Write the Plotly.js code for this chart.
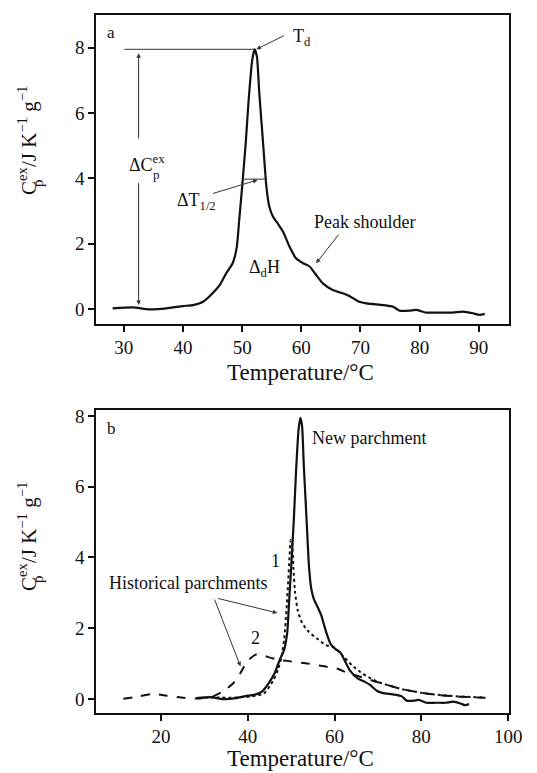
<!DOCTYPE html>
<html>
<head>
<meta charset="utf-8">
<script src="https://cdn.plot.ly/plotly-3.0.1.min.js"></script>
<style>
html,body{margin:0;padding:0;background:#fff;}
#chart{width:537px;height:773px;}
</style>
</head>
<body>
<div id="chart"></div>
<script>
// New parchment (solid) – used in both panels
const newT = [28.1,31.5,34.3,37.2,40,41.7,43.4,45,46.2,47.3,48.4,49.1,49.5,50,50.6,51.1,51.7,52.1,52.5,52.9,53.5,54.1,54.6,55.2,56,56.9,58,59.1,60.3,61.4,62.5,63.6,65.3,67,68.1,69.8,71,73.8,75.5,76.6,78.3,79.4,81.1,83.4,85.6,87.3,89,90.1,91];
const newC = [0.02,0.05,-0.01,0.02,0.09,0.12,0.22,0.48,0.73,1.09,1.4,1.9,2.72,3.74,5.07,6.4,7.62,7.95,7.72,6.6,5.17,3.74,3.13,2.83,2.62,2.37,1.91,1.55,1.40,1.30,1.04,0.79,0.58,0.48,0.40,0.22,0.17,0.12,0.07,-0.05,-0.05,-0.03,-0.11,-0.11,-0.11,-0.08,-0.13,-0.18,-0.15];

// Historical parchment 1 (dotted)
const hist1T = [30,33,36,39,41,43.7,45,46,47,47.8,48.4,48.9,49.3,49.6,49.9,50.2,50.5,50.9,51.5,52.5,54,56,58,60,62,64,66,68,70,73,76,80,85,90,94];
const hist1C = [0.03,0.04,0.03,0.05,0.07,0.15,0.35,0.55,0.85,1.2,1.7,2.5,3.3,4.0,4.5,4.4,3.7,3.0,2.5,2.15,1.9,1.7,1.52,1.45,1.2,0.95,0.75,0.6,0.48,0.36,0.26,0.17,0.1,0.06,0.04];

// Historical parchment 2 (dashed)
const hist2T = [11.3,15.1,18.2,21.3,25.2,29,32.1,34.4,36.7,38.3,39.8,41.8,42.9,44.5,46.8,49.9,53.7,57.6,60.7,63,66.1,69.1,72.2,75.3,79.2,83,86.9,90.7,95.4];
const hist2C = [0,0.075,0.14,0.09,0.03,0.01,0.075,0.22,0.45,0.73,1.06,1.25,1.25,1.19,1.11,1.06,1.0,0.92,0.85,0.73,0.62,0.5,0.39,0.28,0.19,0.12,0.075,0.05,0.03];

const ticksA = [30,40,50,60,70,80,90];
const ticksB = [20,40,60,80,100];
const ticksY = [0,2,4,6,8];

// derived peak / half-height positions
let pk = 0;
for (let i = 1; i < newC.length; i++) if (newC[i] > newC[pk]) pk = i;
const peakT = newT[pk], peakC = newC[pk], half = peakC / 2;
function cross(lo, hi, step) {
  for (let i = lo; i !== hi; i += step) {
    const j = i + step;
    if ((newC[i] - half) * (newC[j] - half) <= 0) {
      return newT[i] + (half - newC[i]) * (newT[j] - newT[i]) / (newC[j] - newC[i]);
    }
  }
  return newT[lo];
}
const leftHalf = cross(0, pk, 1), rightHalf = cross(newC.length - 1, pk, -1);

const FONT = 'Liberation Serif, Times New Roman, serif';
const black = '#111';

const traces = [
  {x: newT, y: newC, xaxis: 'x', yaxis: 'y', mode: 'lines', line: {color: black, width: 2.2, shape: 'spline', smoothing: 0.5}},
  {x: newT, y: newC, xaxis: 'x2', yaxis: 'y2', mode: 'lines', line: {color: black, width: 2.2, shape: 'spline', smoothing: 0.5}},
  {x: hist1T, y: hist1C, xaxis: 'x2', yaxis: 'y2', mode: 'lines', line: {color: black, width: 2, dash: 'dot', shape: 'spline', smoothing: 0.5}},
  {x: hist2T, y: hist2C, xaxis: 'x2', yaxis: 'y2', mode: 'lines', line: {color: black, width: 2, dash: 'dash', shape: 'spline', smoothing: 0.5}}
];

const axCommon = {
  showline: true, mirror: true, linecolor: black, linewidth: 1.6,
  ticks: 'outside', ticklen: 6, tickwidth: 2, tickcolor: black,
  showgrid: false, zeroline: false,
  tickfont: {family: FONT, size: 19, color: black}
};

function arrow(xr, yr, x, y, ax, ay, w) {
  return {xref: xr, yref: yr, axref: xr, ayref: yr, x: x, y: y, ax: ax, ay: ay,
    text: '', showarrow: true, arrowhead: 2, arrowsize: 0.9, arrowwidth: w || 1,
    arrowcolor: '#333', standoff: 0, startstandoff: 0};
}
function label(xr, yr, x, y, t, xa, size) {
  return {xref: xr, yref: yr, x: x, y: y, text: t, showarrow: false,
    xanchor: xa || 'center', yanchor: 'middle',
    font: {family: FONT, size: size || 18, color: black}};
}

// stacked "p" subscript under "ex" is drawn as a separate small text
const ytitle = 'C<sup>ex</sup>/J K<sup>\u22121</sup> g<sup>\u22121</sup>';
function ytitleAnn(py) {
  return {xref: 'paper', yref: 'paper', x: (27 - 96) / 413, y: (713 - py) / 698, text: ytitle,
    textangle: -90, showarrow: false, xanchor: 'center', yanchor: 'middle',
    font: {family: FONT, size: 21, color: black}};
}
function ysubAnn(py) {
  return {xref: 'paper', yref: 'paper', x: (38 - 96) / 413, y: (713 - py) / 698, text: 'p',
    textangle: -90, showarrow: false, xanchor: 'center', yanchor: 'middle',
    font: {family: FONT, size: 15, color: black}};
}

const annotations = [
  // panel a
  label('x', 'y', 27.8, 8.47, 'a', 'center', 17),
  label('x', 'y', 58.2, 8.3, 'T<sub>d</sub>', 'left'),
  arrow('x', 'y', peakT + 0.3, peakC, 57.3, 8.39, 1),
  label('x', 'y', 30.6, 4.45, '\u0394C<sup>ex</sup>', 'left'),
  {xref: 'x', yref: 'y', x: 34.55, y: 4.12, text: 'p', showarrow: false, xanchor: 'left', yanchor: 'middle',
    font: {family: FONT, size: 13, color: black}},
  arrow('x', 'y', 32.5, 7.83, 32.5, 5.17, 1),
  arrow('x', 'y', 32.5, 0.12, 32.5, 3.9, 1),
  label('x', 'y', 38.6, 3.3, '\u0394T<sub>1/2</sub>', 'left'),
  arrow('x', 'y', 52.6, 3.95, 44.8, 3.52, 1),
  label('x', 'y', 70.7, 2.67, 'Peak shoulder'),
  arrow('x', 'y', 62.5, 1.40, 66.5, 2.32, 1),
  label('x', 'y', 53.8, 1.25, '\u0394<sub>d</sub>H'),
  // panel b
  label('x2', 'y2', 8.66, 7.66, 'b', 'center', 17),
  label('x2', 'y2', 54.3, 7.39, 'New parchment', 'left'),
  label('x2', 'y2', 46.4, 3.89, '1'),
  label('x2', 'y2', 41.75, 1.72, '2'),
  label('x2', 'y2', 26.3, 3.27, 'Historical parchments'),
  arrow('x2', 'y2', 46.8, 2.43, 32.8, 2.85, 1),
  arrow('x2', 'y2', 38.3, 0.92, 32.2, 2.85, 1),
  // axis titles
  {xref: 'paper', yref: 'paper', x: 0.494, y: 0.4885, text: 'Temperature/\u00b0C', showarrow: false,
    xanchor: 'center', yanchor: 'middle', font: {family: FONT, size: 23, color: black}},
  {xref: 'paper', yref: 'paper', x: 0.494, y: (713 - 773) / 698, text: 'Temperature/\u00b0C', showarrow: false,
    xanchor: 'center', yanchor: 'bottom', font: {family: FONT, size: 23, color: black}},
  ytitleAnn(141), ysubAnn(183),
  ytitleAnn(537), ysubAnn(579)
];

const shapes = [
  {type: 'line', xref: 'x', yref: 'y', x0: 30.1, x1: peakT, y0: peakC, y1: peakC,
    line: {color: '#333', width: 1}},
  {type: 'line', xref: 'x', yref: 'y', x0: leftHalf, x1: rightHalf, y0: half, y1: half,
    line: {color: '#333', width: 1}}
];

const layout = {
  width: 537, height: 773,
  margin: {l: 96, r: 28, t: 15, b: 60},
  paper_bgcolor: '#fff', plot_bgcolor: '#fff',
  showlegend: false,
  font: {family: FONT, color: black},
  xaxis: Object.assign({}, axCommon, {domain: [0, 1], anchor: 'y', range: [25.3, 95.1], tickvals: ticksA}),
  yaxis: Object.assign({}, axCommon, {domain: [0.5573, 1], anchor: 'x', range: [-0.46, 9.0], tickvals: ticksY}),
  xaxis2: Object.assign({}, axCommon, {domain: [0, 1], anchor: 'y2', range: [5, 100.2], tickvals: ticksB}),
  yaxis2: Object.assign({}, axCommon, {domain: [0, 0.4341], anchor: 'x2', range: [-0.4, 8.17], tickvals: ticksY}),
  annotations: annotations,
  shapes: shapes
};

Plotly.newPlot('chart', traces, layout, {displayModeBar: false, staticPlot: true});
</script>
</body>
</html>
